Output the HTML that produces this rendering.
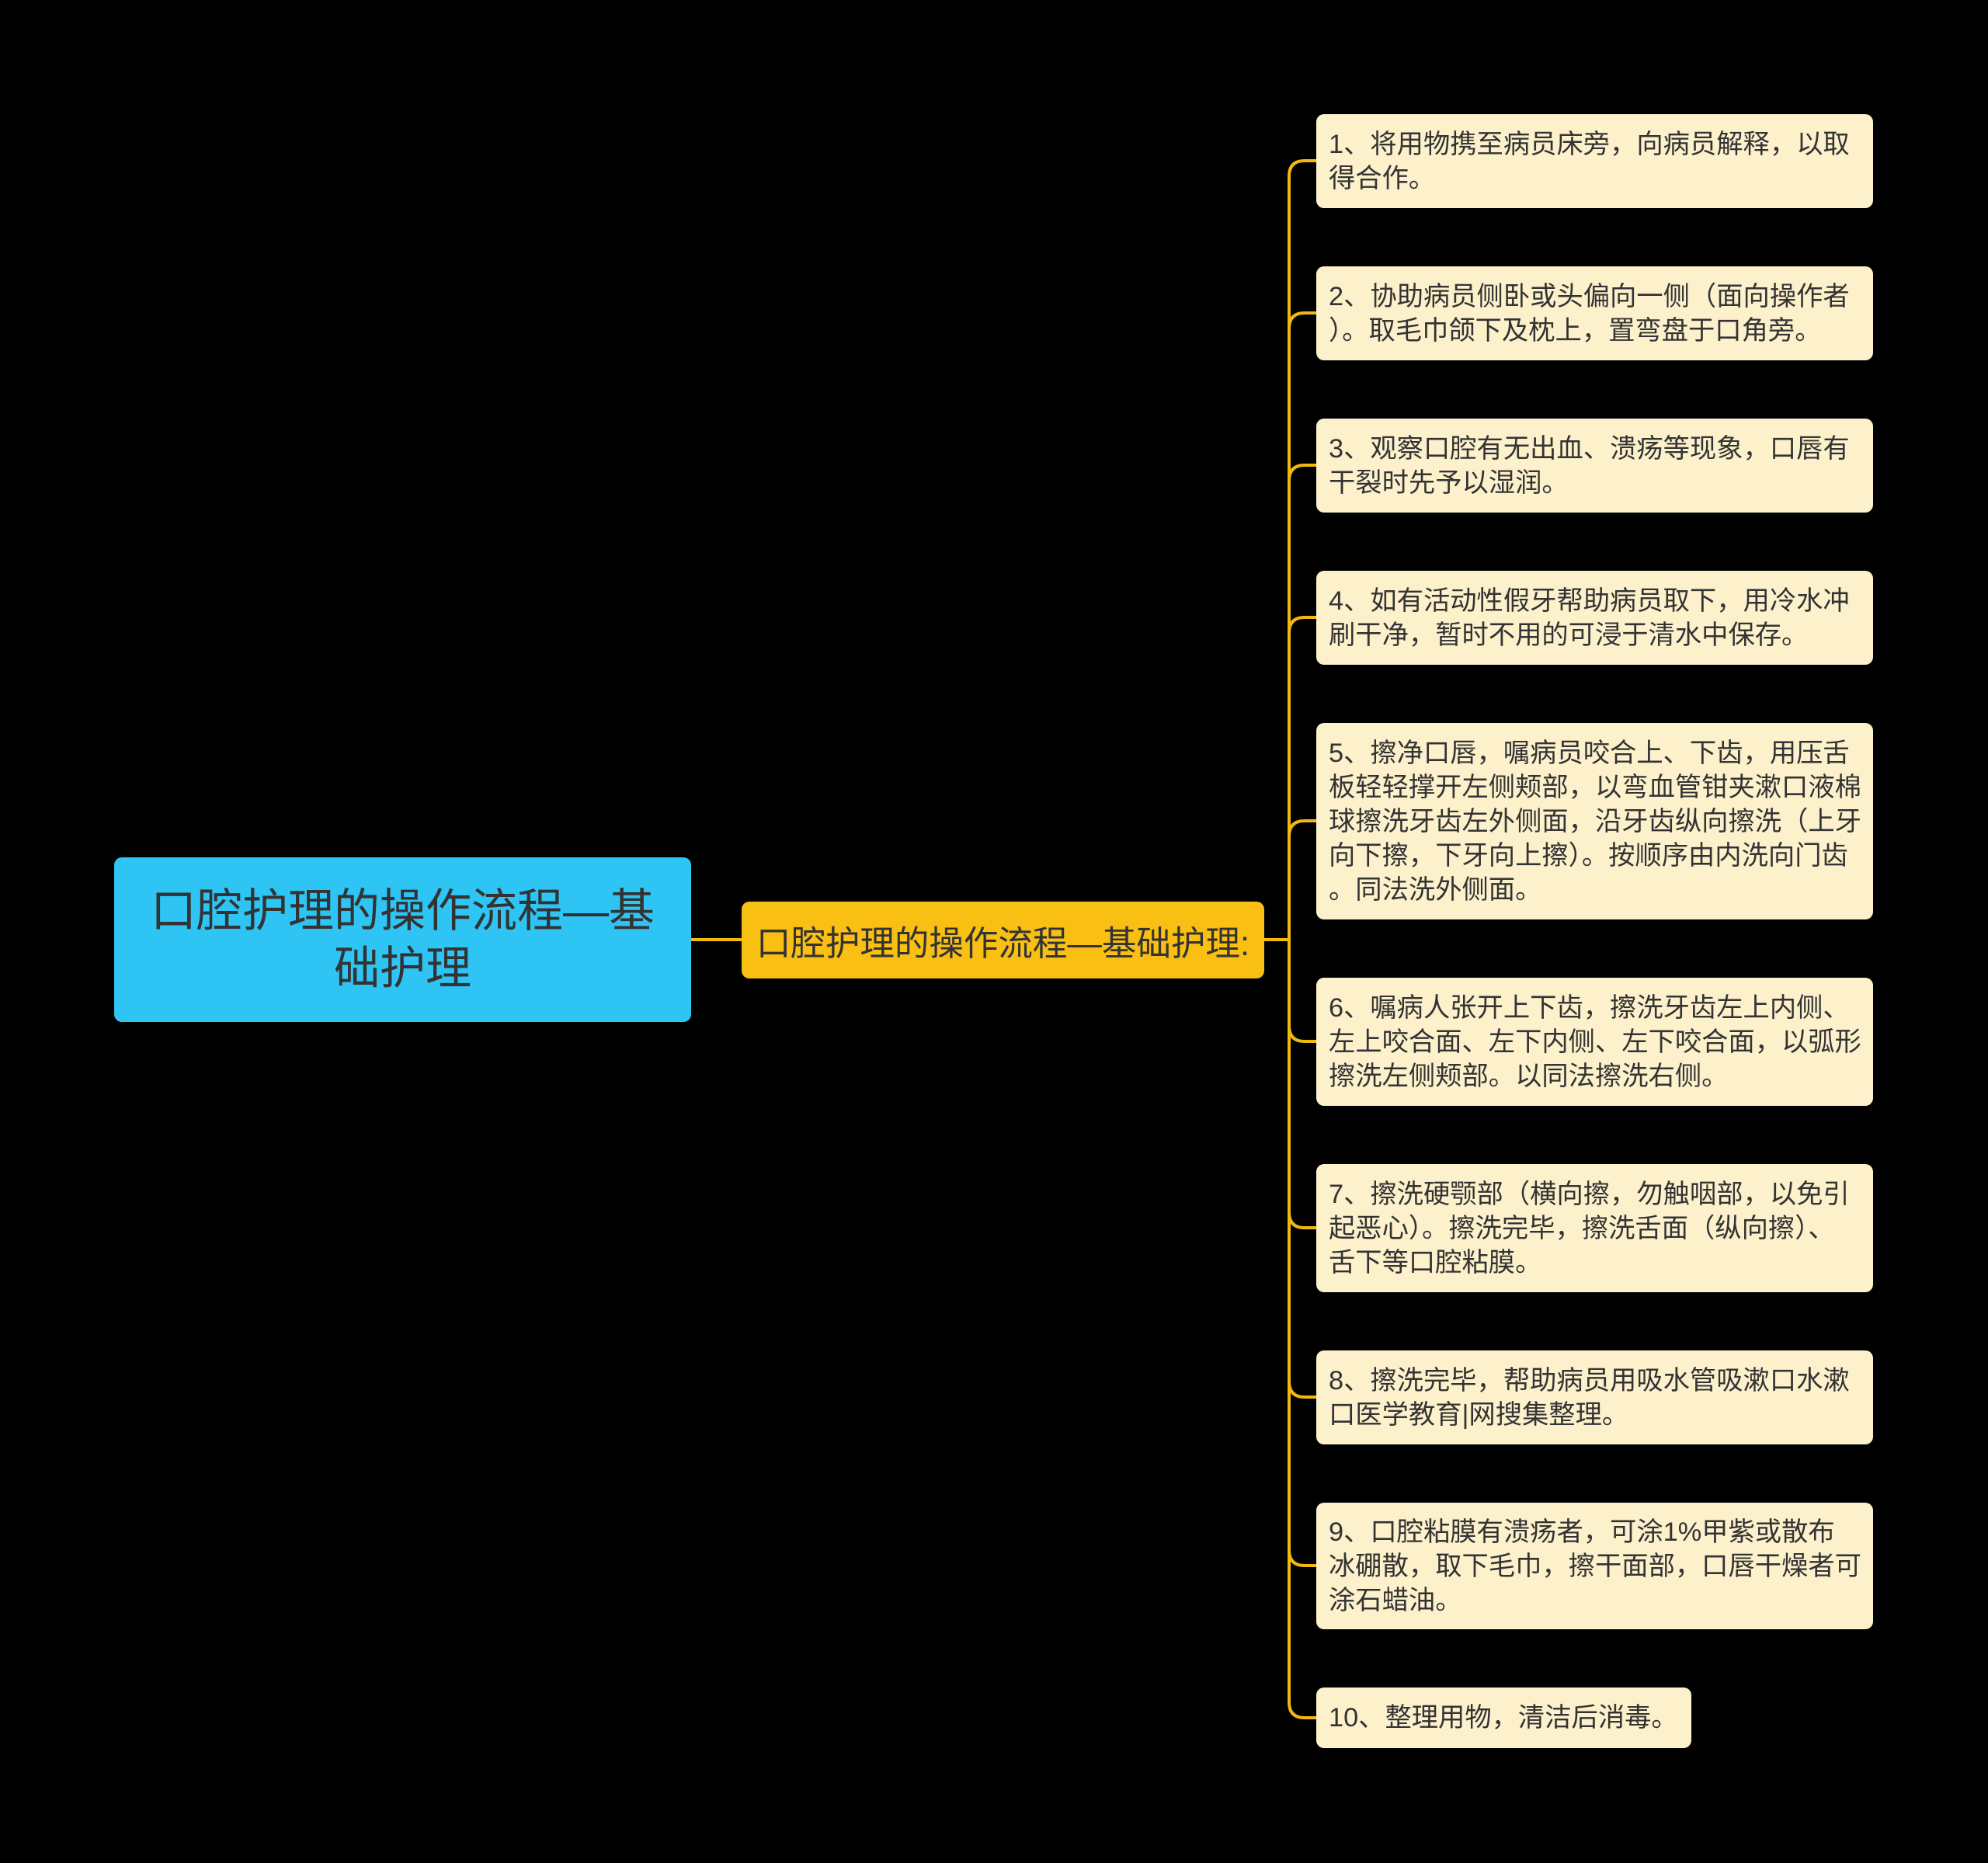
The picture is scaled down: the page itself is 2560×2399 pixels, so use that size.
<!DOCTYPE html>
<html><head><meta charset="utf-8">
<style>
html,body{margin:0;padding:0;background:#000;}
body{width:2560px;height:2399px;position:relative;overflow:hidden;font-family:"Liberation Sans","Noto Sans CJK SC",sans-serif;}
.n{position:absolute;box-sizing:border-box;}
.root{left:147px;top:1104px;width:743px;height:212px;background:#2ec5f5;border-radius:10px;color:#333;font-size:59px;line-height:74px;text-align:center;display:flex;align-items:center;justify-content:center;}
.mid{left:955px;top:1161px;width:673px;height:99px;background:#f9bf12;border-radius:10px;color:#333;font-size:44.5px;display:flex;align-items:center;justify-content:center;white-space:nowrap;}
.leaf{left:1695px;width:717px;background:#fdf1cc;border-radius:10px;color:#333;font-size:34.3px;line-height:44px;padding:16px 16px;white-space:nowrap;display:flex;align-items:center;}
</style></head><body>
<svg width="2560" height="2399" style="position:absolute;left:0;top:0">
<g fill="none" stroke="#f0b90b" stroke-width="4">
<line x1="890" y1="1210" x2="955" y2="1210"/>
<line x1="1628" y1="1210" x2="1660" y2="1210"/>
<path d="M1695 207 H1680 Q1660 207 1660 227 V2192 Q1660 2212 1680 2212 H1695"/>
<path d="M1695 403 H1680 Q1660 403 1660 423"/>
<path d="M1695 599 H1680 Q1660 599 1660 619"/>
<path d="M1695 795 H1680 Q1660 795 1660 815"/>
<path d="M1695 1057 H1680 Q1660 1057 1660 1077"/>
<path d="M1695 1341 H1680 Q1660 1341 1660 1321"/>
<path d="M1695 1581 H1680 Q1660 1581 1660 1561"/>
<path d="M1695 1799 H1680 Q1660 1799 1660 1779"/>
<path d="M1695 2016 H1680 Q1660 2016 1660 1996"/>
</g></svg>
<div class="n root">口腔护理的操作流程—基<br>础护理</div>
<div class="n mid">口腔护理的操作流程—基础护理:</div>
<div class="n leaf" style="top:147px;height:121px">1、将用物携至病员床旁，向病员解释，以取<br>得合作。</div>
<div class="n leaf" style="top:343px;height:121px">2、协助病员侧卧或头偏向一侧（面向操作者<br>）。取毛巾颌下及枕上，置弯盘于口角旁。</div>
<div class="n leaf" style="top:539px;height:121px">3、观察口腔有无出血、溃疡等现象，口唇有<br>干裂时先予以湿润。</div>
<div class="n leaf" style="top:735px;height:121px">4、如有活动性假牙帮助病员取下，用冷水冲<br>刷干净，暂时不用的可浸于清水中保存。</div>
<div class="n leaf" style="top:931px;height:253px">5、擦净口唇，嘱病员咬合上、下齿，用压舌<br>板轻轻撑开左侧颊部，以弯血管钳夹漱口液棉<br>球擦洗牙齿左外侧面，沿牙齿纵向擦洗（上牙<br>向下擦，下牙向上擦）。按顺序由内洗向门齿<br>。同法洗外侧面。</div>
<div class="n leaf" style="top:1259px;height:165px">6、嘱病人张开上下齿，擦洗牙齿左上内侧、<br>左上咬合面、左下内侧、左下咬合面，以弧形<br>擦洗左侧颊部。以同法擦洗右侧。</div>
<div class="n leaf" style="top:1499px;height:165px">7、擦洗硬颚部（横向擦，勿触咽部，以免引<br>起恶心）。擦洗完毕，擦洗舌面（纵向擦）、<br>舌下等口腔粘膜。</div>
<div class="n leaf" style="top:1739px;height:121px">8、擦洗完毕，帮助病员用吸水管吸漱口水漱<br>口医学教育|网搜集整理。</div>
<div class="n leaf" style="top:1935px;height:163px">9、口腔粘膜有溃疡者，可涂1%甲紫或散布<br>冰硼散，取下毛巾，擦干面部，口唇干燥者可<br>涂石蜡油。</div>
<div class="n leaf" style="top:2173px;height:78px;width:483px">10、整理用物，清洁后消毒。</div>
</body></html>
